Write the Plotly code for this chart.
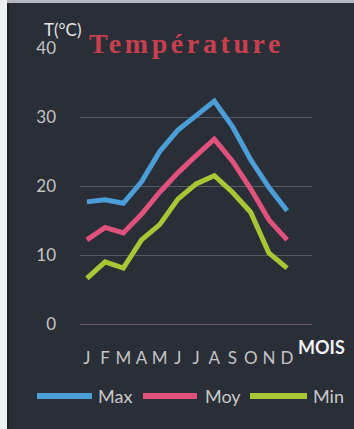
import plotly.graph_objects as go

# Monthly temperatures (°C)
months = ["J", "F", "M", "A", "M", "J", "J", "A", "S", "O", "N", "D"]
t_max = [17.7, 18.0, 17.5, 20.6, 25.0, 28.1, 30.2, 32.3, 28.6, 23.8, 19.8, 16.4]
t_moy = [12.2, 14.0, 13.2, 15.9, 19.1, 21.9, 24.4, 26.8, 23.6, 19.6, 15.1, 12.2]
t_min = [6.6, 9.0, 8.1, 12.2, 14.4, 18.1, 20.3, 21.5, 19.1, 16.2, 10.3, 8.1]
y_ticks = [0, 10, 20, 30, 40]

series = [("Max", t_max, "#4b9ed8"), ("Moy", t_moy, "#e0517c"), ("Min", t_min, "#a9c634")]

W, H = 354, 429
L, R, T, B = 80, 42, 48, 105
PW, PH = W - L - R, H - T - B


def px(x):
    return (x - L) / PW


def py(y):
    return 1 - (y - T) / PH


BG = "#2a2e37"
x_idx = list(range(len(months)))

fig = go.Figure()
for name, vals, col in series:
    fig.add_trace(go.Scatter(
        x=x_idx, y=vals, mode="lines", name=name,
        line=dict(color=col, width=5), showlegend=False,
    ))

shapes = [
    # light paper edge on the left and top
    dict(type="rect", xref="paper", yref="paper", x0=px(0), x1=px(7), y0=py(H), y1=py(0),
         fillcolor="#eef0f0", line_width=0, layer="above"),
    dict(type="rect", xref="paper", yref="paper", x0=px(7), x1=px(9), y0=py(H), y1=py(0),
         fillcolor="#1c1f26", line_width=0, layer="above"),
    dict(type="rect", xref="paper", yref="paper", x0=px(7), x1=px(W), y0=py(3), y1=py(0),
         fillcolor="#b4b8be", line_width=0, layer="above"),
]

# legend swatches
legend_items = [(37, 92, 96), (143, 197, 203), (250, 307, 311)]
annotations = []
for (x0, x1, xt), (name, _, col) in zip(legend_items, series):
    shapes.append(dict(type="line", xref="paper", yref="paper", x0=px(x0), x1=px(x1),
                       y0=py(396), y1=py(396), line=dict(color=col, width=6)))
    annotations.append(dict(text=name, xref="paper", yref="paper", x=px(xt), y=py(396),
                            xanchor="left", yanchor="middle", showarrow=False,
                            font=dict(family="Lato", size=18, color="#c9c9c9")))

annotations += [
    dict(text='<b><span style="letter-spacing:3.6px">Température</span></b>',
         xref="paper", yref="paper", x=px(87), y=py(44), xanchor="left", yanchor="middle",
         showarrow=False, font=dict(family="Liberation Serif", size=28, color="#c8404f")),
    dict(text="T(°C)", xref="paper", yref="paper", x=px(63), y=py(30),
         xanchor="center", yanchor="middle", showarrow=False,
         font=dict(family="Lato", size=17, color="#e4e4e4")),
    dict(text="<b>MOIS</b>", xref="paper", yref="paper", x=px(321), y=py(347),
         xanchor="center", yanchor="middle", showarrow=False,
         font=dict(family="Lato", size=18, color="#f2f2f2")),
]

fig.update_layout(
    width=W, height=H,
    margin=dict(l=L, r=R, t=T, b=B),
    paper_bgcolor=BG, plot_bgcolor=BG,
    shapes=shapes, annotations=annotations,
    xaxis=dict(range=[-0.38, 12.37], tickvals=x_idx, ticktext=months,
               showgrid=False, zeroline=False, showline=False, ticks="",
               ticklabelstandoff=22,
               tickfont=dict(family="Lato", size=17, color="#c4c4c4")),
    yaxis=dict(range=[0, 40], tickvals=y_ticks, showgrid=True,
               gridcolor="rgba(140,145,155,0.45)", gridwidth=1,
               zeroline=True, zerolinecolor="rgba(150,120,140,0.6)", zerolinewidth=1,
               showline=False, ticks="", ticklabelstandoff=23,
               tickfont=dict(family="Lato", size=17, color="#c4c4c4")),
)

fig.write_html("out.html")
